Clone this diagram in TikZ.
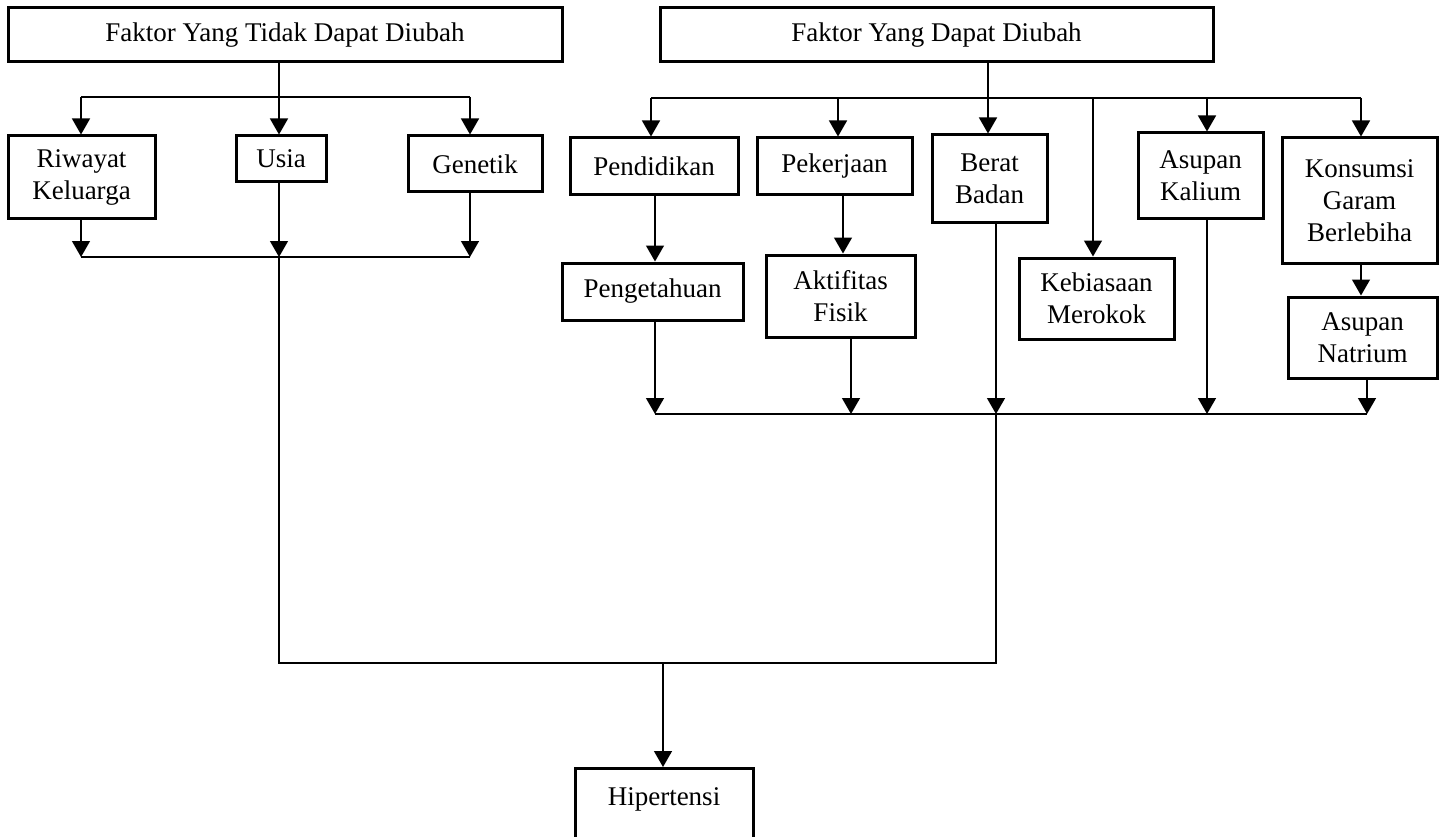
\documentclass[tikz,border=0pt]{standalone}
\usepackage{fontspec}
\setmainfont{Liberation Serif}
\usetikzlibrary{positioning, arrows.meta}

\begin{document}
\begin{tikzpicture}[
    x=1pt, y=-1pt, %% picture units follow the page grid, y grows downwards
    box/.style={
        rectangle,
        draw=black,
        line width=3pt,
        align=center,
        fill=white,
        font=\fontsize{27}{32}\selectfont,
        inner sep=4pt
    },
    arrow/.style={
        -{Triangle[length=16pt, width=18pt]},
        line width=1.4pt
    },
    link/.style={
        line width=1.4pt
    }
]
\useasboundingbox (0,0) rectangle (1445,837);
\clip (0,0) rectangle (1445,837);

%% Top Row Nodes
\node[box, minimum width=554pt, minimum height=54pt] (tetap) at (285,35) {Faktor Yang Tidak Dapat Diubah};
\node[box, minimum width=553pt, minimum height=54pt] (ubah) at (936.5,35) {Faktor Yang Dapat Diubah};

%% Second Row Nodes (fixed factors)
\node[box, minimum width=147pt, minimum height=82pt] (riwayat) at (81.5,177) {Riwayat\\Keluarga};
\node[box, minimum width=90pt, minimum height=46pt] (usia) at (281,159) {Usia};
\node[box, minimum width=134pt, minimum height=56pt] (genetik) at (475,164) {Genetik};

%% Second Row Nodes (changeable factors)
\node[box, minimum width=168pt, minimum height=57pt] (pendidikan) at (654,166.5) {Pendidikan};
\node[box, minimum width=155pt, minimum height=57pt] (pekerjaan) at (834.5,166.5) {Pekerjaan};
\node[box, minimum width=115pt, minimum height=87pt] (berat) at (989.5,178.5) {Berat\\Badan};
\node[box, minimum width=125pt, minimum height=85pt] (kalium) at (1200.5,175.5) {Asupan\\Kalium};
\node[box, minimum width=155pt, minimum height=125pt] (konsumsi) at (1359.5,200.5) {Konsumsi\\Garam\\Berlebiha};

%% Third Row Nodes
\node[box, below=65pt of pendidikan, xshift=-1.5pt, minimum width=181pt, minimum height=57pt] (pengetahuan) {Pengetahuan};
\node[box, below=57pt of pekerjaan, xshift=6pt, minimum width=149pt, minimum height=82pt] (aktifitas) {Aktifitas\\Fisik};
\node[box, minimum width=155pt, minimum height=81pt] (kebiasaan) at (1096.5,298.5) {Kebiasaan\\Merokok};
\node[box, below=31pt of konsumsi, xshift=3pt, minimum width=149pt, minimum height=81pt] (natrium) {Asupan\\Natrium};

%% Bottom Node
\node[box, anchor=north, minimum width=178pt, text height=27pt, text depth=70pt, inner ysep=10pt] (hipertensi) at (664,767) {Hipertensi};

%% Junctions
\coordinate (t_split) at (279,97);
\coordinate (t_riw) at (81,97);
\coordinate (t_gen) at (470,97);
\coordinate (t_join) at (279,257);
\coordinate (t_join_l) at (81,257);
\coordinate (t_join_r) at (470,257);

\coordinate (u_split) at (988,98);
\coordinate (u_pend) at (651,98);
\coordinate (u_pek) at (838,98);
\coordinate (u_keb) at (1093,98);
\coordinate (u_kal) at (1207,98);
\coordinate (u_kon) at (1361,98);

\coordinate (b_peng) at (655,414);
\coordinate (b_akt) at (851,414);
\coordinate (b_ber) at (996,414);
\coordinate (b_kal) at (1207,414);
\coordinate (b_nat) at (1367,414);

\coordinate (h_left) at (279,663);
\coordinate (h_right) at (996,663);
\coordinate (h_drop) at (663,663);

%% Fixed factors tree
\draw[link] (tetap.south -| t_split) -- (t_split);
\draw[link] (t_riw) -- (t_gen);
\draw[arrow] (t_riw) -- (riwayat.north -| t_riw);
\draw[arrow] (t_split) -- (usia.north -| t_split);
\draw[arrow] (t_gen) -- (genetik.north -| t_gen);
\draw[arrow] (riwayat.south -| t_join_l) -- (t_join_l);
\draw[arrow] (usia.south -| t_join) -- (t_join);
\draw[arrow] (genetik.south -| t_join_r) -- (t_join_r);
\draw[link] (t_join_l) -- (t_join_r);

%% Changeable factors tree
\draw[link] (ubah.south -| u_split) -- (u_split);
\draw[link] (u_pend) -- (u_kon);
\draw[arrow] (u_pend) -- (pendidikan.north -| u_pend);
\draw[arrow] (u_pek) -- (pekerjaan.north -| u_pek);
\draw[arrow] (u_split) -- (berat.north -| u_split);
\draw[arrow] (u_keb) -- (kebiasaan.north -| u_keb);
\draw[arrow] (u_kal) -- (kalium.north -| u_kal);
\draw[arrow] (u_kon) -- (konsumsi.north -| u_kon);

%% Vertical Connections
\draw[arrow] ([xshift=1pt]pendidikan.south) -- ([xshift=1pt]pendidikan.south |- pengetahuan.north);
\draw[arrow] ([xshift=8.5pt]pekerjaan.south) -- ([xshift=8.5pt]pekerjaan.south |- aktifitas.north);
\draw[arrow] ([xshift=1.5pt]konsumsi.south) -- ([xshift=1.5pt]konsumsi.south |- natrium.north);

\draw[arrow] (pengetahuan.south -| b_peng) -- (b_peng);
\draw[arrow] (aktifitas.south -| b_akt) -- (b_akt);
\draw[arrow] (berat.south -| b_ber) -- (b_ber);
\draw[arrow] (kalium.south -| b_kal) -- (b_kal);
\draw[arrow] (natrium.south -| b_nat) -- (b_nat);
\draw[link] (b_peng) -- (b_nat);

%% Joining to Hipertensi
\draw[link] (t_join) -- (h_left) -- (h_right) -- (b_ber);
\draw[arrow] (h_drop) -- (hipertensi.north -| h_drop);

\end{tikzpicture}
\end{document}
